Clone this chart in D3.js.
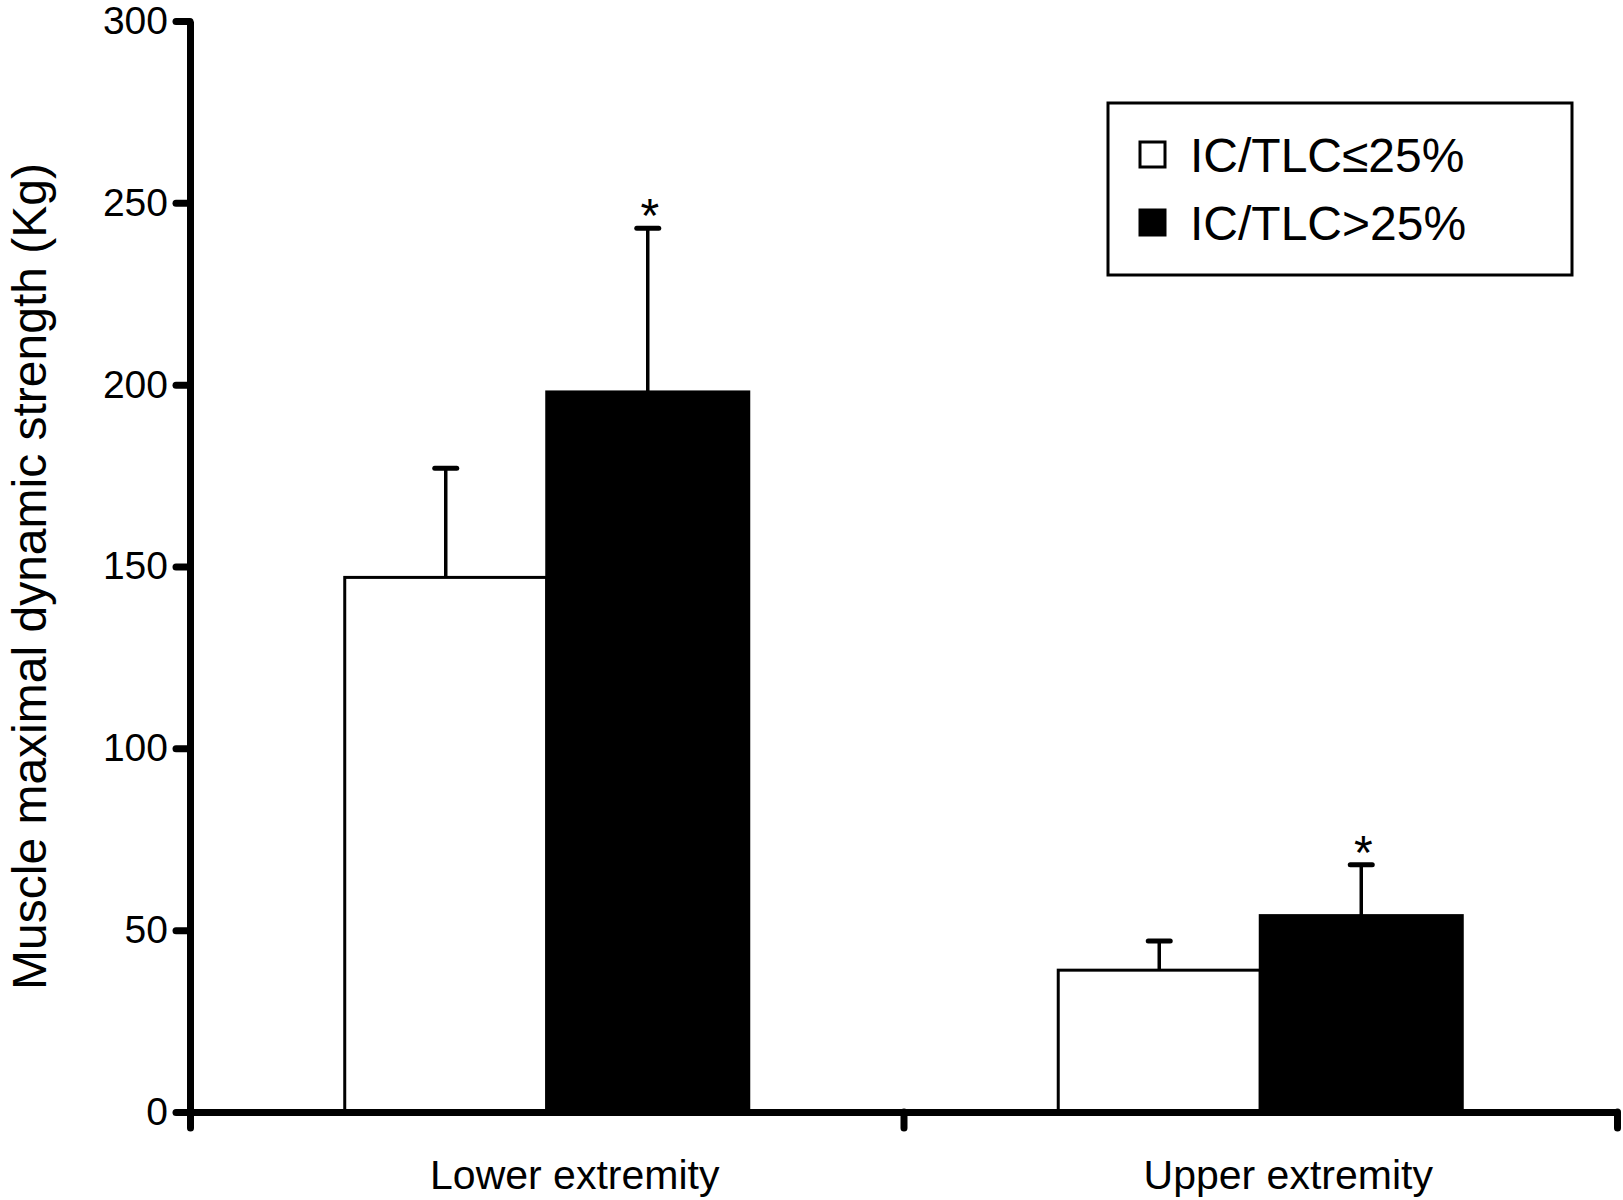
<!DOCTYPE html>
<html>
<head>
<meta charset="utf-8">
<script src="https://cdn.jsdelivr.net/npm/d3@7"></script>
<style>
  body { margin: 0; background: #fff; }
  svg { display: block; font-family: "Liberation Sans", Arial, sans-serif; }
</style>
</head>
<body>
<svg id="chart" width="1623" height="1200"></svg>
<script>
const categories = ["Lower extremity", "Upper extremity"];
const groups = ["IC/TLC≤25%", "IC/TLC>25%"];
const meanLow = [147, 39];      // IC/TLC<=25%
const meanHigh = [198, 54];     // IC/TLC>25%
const sdLow = [30, 8];
const sdHigh = [45, 14];
const significant = [false, true]; // asterisk per group (only high group)
const yTicks = [0, 50, 100, 150, 200, 250, 300];

const fills = ["#fff", "#000"];

const svg = d3.select("#chart");

const y = d3.scaleLinear().domain([0, 300]).range([1112, 21]);
const x0 = d3.scaleBand().domain(categories).range([190, 1617]);
const x1 = d3.scaleBand().domain(groups).range([0, x0.bandwidth()])
  .paddingInner(0).paddingOuter(0.766);

const rows = [];
categories.forEach((c, i) => {
  rows.push({ cat: c, grp: groups[0], mean: meanLow[i], sd: sdLow[i], star: significant[0] });
  rows.push({ cat: c, grp: groups[1], mean: meanHigh[i], sd: sdHigh[i], star: significant[1] });
});

// bars
svg.append("g").selectAll("rect").data(rows).join("rect")
  .attr("x", d => x0(d.cat) + x1(d.grp))
  .attr("y", d => y(d.mean))
  .attr("width", x1.bandwidth())
  .attr("height", d => y(0) - y(d.mean))
  .attr("fill", d => fills[groups.indexOf(d.grp)])
  .attr("stroke", "#000")
  .attr("stroke-width", 3);

// error bars (upper only)
const cx = d => x0(d.cat) + x1(d.grp) + x1.bandwidth() / 2;
const err = svg.append("g").attr("stroke", "#000");
err.selectAll("line.v").data(rows).join("line").attr("class", "v")
  .attr("x1", cx).attr("x2", cx)
  .attr("y1", d => y(d.mean)).attr("y2", d => y(d.mean + d.sd))
  .attr("stroke-width", 3.5);
err.selectAll("line.cap").data(rows).join("line").attr("class", "cap")
  .attr("x1", d => cx(d) - 11).attr("x2", d => cx(d) + 11)
  .attr("y1", d => y(d.mean + d.sd)).attr("y2", d => y(d.mean + d.sd))
  .attr("stroke-width", 5).attr("stroke-linecap", "round");

svg.append("g").selectAll("text").data(rows.filter(d => d.star)).join("text")
  .attr("x", d => cx(d) + 2)
  .attr("y", d => y(d.mean + d.sd) + 4)
  .attr("text-anchor", "middle")
  .attr("font-size", 48)
  .text("*");

// y axis
const yAxis = svg.append("g")
  .attr("transform", `translate(${x0.range()[0]},0)`)
  .call(d3.axisLeft(y).tickValues(yTicks).tickSize(14).tickSizeOuter(0).tickPadding(8));
yAxis.select(".domain").attr("stroke-width", 7);
yAxis.selectAll(".tick line").attr("stroke-width", 7).attr("stroke-linecap", "round");
yAxis.selectAll(".tick text").attr("font-size", 39).attr("fill", "#000")
  .attr("font-family", "Liberation Sans, Arial, sans-serif");

// x axis: edge ticks + category labels
const xEdge = d3.scaleLinear().domain([0, categories.length]).range(x0.range());
const xAxis = svg.append("g")
  .attr("transform", `translate(0,${y(0)})`)
  .call(d3.axisBottom(xEdge).tickValues(d3.range(categories.length + 1))
    .tickFormat("").tickSize(16).tickSizeOuter(0));
xAxis.select(".domain").attr("stroke-width", 7);
xAxis.selectAll(".tick line").attr("stroke-width", 7).attr("stroke-linecap", "round");

const xLab = svg.append("g")
  .attr("transform", `translate(28,${y(0)})`)
  .call(d3.axisBottom(x0).tickSize(0).tickPadding(48));
xLab.select(".domain").remove();
xLab.selectAll(".tick text").attr("font-size", 41).attr("fill", "#000")
  .attr("font-family", "Liberation Sans, Arial, sans-serif");

// y title
svg.append("text")
  .attr("transform", `translate(46,${(y(0) + y(300)) / 2 + 10}) rotate(-90)`)
  .attr("text-anchor", "middle")
  .attr("font-size", 48)
  .text("Muscle maximal dynamic strength (Kg)");

// legend
const lg = svg.append("g").attr("transform", "translate(1108,103)");
lg.append("rect").attr("width", 464).attr("height", 172)
  .attr("fill", "#fff").attr("stroke", "#000").attr("stroke-width", 3);
const item = lg.selectAll("g.item").data(groups).join("g").attr("class", "item")
  .attr("transform", (d, i) => `translate(32,${39 + i * 68})`);
item.append("rect").attr("width", 25).attr("height", 25)
  .attr("fill", (d, i) => fills[i]).attr("stroke", "#000").attr("stroke-width", 3);
item.append("text").attr("x", 50).attr("y", 30)
  .attr("font-size", 48).text(d => d);
</script>
</body>
</html>
